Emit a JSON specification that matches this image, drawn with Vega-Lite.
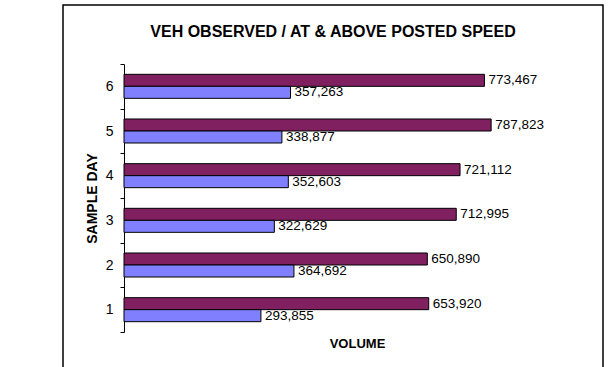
{
  "$schema": "https://vega.github.io/schema/vega-lite/v6.json",
  "autosize": {"type": "none"},
  "padding": {"left": 63, "top": 5, "right": 8, "bottom": 0},
  "width": 540,
  "height": 363,
  "background": "#ffffff",
  "title": {
    "text": "VEH OBSERVED / AT & ABOVE POSTED SPEED",
    "anchor": "middle",
    "frame": "group",
    "orient": "top",
    "offset": -55,
    "baseline": "alphabetic",
    "font": "Liberation Sans",
    "fontSize": 16,
    "fontWeight": "bold",
    "color": "#000000"
  },
  "config": {
    "view": {"stroke": "#000000", "strokeWidth": 1.5},
    "font": "Liberation Sans"
  },
  "data": {
    "values": [
      {"day": "6", "series": "Observed", "volume": 773467},
      {"day": "6", "series": "At & Above", "volume": 357263},
      {"day": "5", "series": "Observed", "volume": 787823},
      {"day": "5", "series": "At & Above", "volume": 338877},
      {"day": "4", "series": "Observed", "volume": 721112},
      {"day": "4", "series": "At & Above", "volume": 352603},
      {"day": "3", "series": "Observed", "volume": 712995},
      {"day": "3", "series": "At & Above", "volume": 322629},
      {"day": "2", "series": "Observed", "volume": 650890},
      {"day": "2", "series": "At & Above", "volume": 364692},
      {"day": "1", "series": "Observed", "volume": 653920},
      {"day": "1", "series": "At & Above", "volume": 293855}
    ]
  },
  "encoding": {
    "y": {
      "field": "day",
      "type": "nominal",
      "sort": "descending",
      "scale": {"range": [59, 327], "paddingInner": 0, "paddingOuter": 0},
      "axis": {
        "title": "SAMPLE DAY",
        "titleFont": "Liberation Sans",
        "titleFontSize": 14,
        "titleFontWeight": "bold",
        "titleColor": "#000000",
        "titlePadding": 6,
        "offset": -61,
        "tickBand": "extent",
        "tickSize": 4,
        "tickColor": "#000000",
        "domainColor": "#000000",
        "labelPadding": 7,
        "labelFontSize": 14,
        "labelColor": "#000000",
        "labelAngle": 0,
        "grid": false
      }
    },
    "yOffset": {
      "field": "series",
      "type": "nominal",
      "sort": ["Observed", "At & Above"],
      "scale": {"paddingInner": 0, "paddingOuter": 0.86}
    },
    "x": {
      "field": "volume",
      "type": "quantitative",
      "scale": {"domain": [0, 1000000], "range": [61, 527]},
      "axis": {
        "title": "VOLUME",
        "domain": false,
        "ticks": false,
        "labels": false,
        "grid": false,
        "titleY": -25,
        "titleBaseline": "middle",
        "titleFontSize": 13,
        "titleFontWeight": "bold",
        "titleColor": "#000000"
      }
    }
  },
  "layer": [
    {
      "mark": {"type": "bar", "stroke": "#000000", "strokeWidth": 1},
      "encoding": {
        "color": {
          "field": "series",
          "type": "nominal",
          "scale": {"domain": ["Observed", "At & Above"], "range": ["#802060", "#8080FF"]},
          "legend": null
        }
      }
    },
    {
      "mark": {"type": "text", "align": "left", "baseline": "middle", "dx": 4, "fontSize": 13.5, "color": "#000000"},
      "encoding": {
        "text": {"field": "volume", "type": "quantitative", "format": ","}
      }
    }
  ]
}
